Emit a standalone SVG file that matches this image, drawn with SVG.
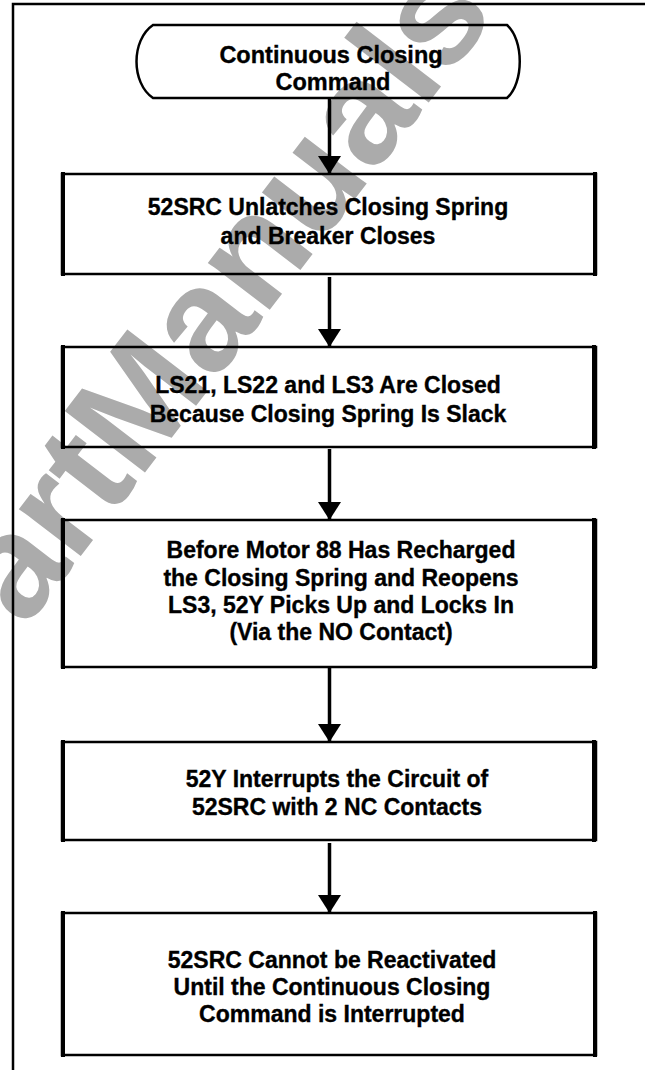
<svg xmlns="http://www.w3.org/2000/svg" width="645" height="1070" viewBox="0 0 645 1070">
<style>
.frame{fill:none;stroke:#000;stroke-width:2.5}
.box{fill:none;stroke:#000;stroke-width:2.5}
.side{stroke:#000;stroke-width:4}
.lbl{font-family:"Liberation Sans",Arial,Helvetica,sans-serif;font-weight:bold;font-size:23px;fill:#000;stroke:#000;stroke-width:0.35;text-anchor:middle}
.big{font-size:23.5px}
.conn{stroke:#000;stroke-width:3.5;fill:none}
.wm{font-family:"Liberation Sans",Arial,sans-serif;font-weight:bold;font-size:147px;fill:#ababab}
</style>
<defs>
<marker id="ah" viewBox="0 0 18 23" refX="18" refY="11.5" markerWidth="18" markerHeight="23" markerUnits="userSpaceOnUse" orient="auto">
<path d="M0,0 L18,11.5 L0,23 Z" fill="#000"/>
</marker>
</defs>
<rect width="645" height="1070" fill="#fff"/>
<g id="watermark">
<text class="wm" transform="translate(-35,707) rotate(-52.5)">PartManuals</text>
</g>
<path class="frame" d="M13,1070 V4 H645"/>
<g id="start">
<path class="box" d="M153,25 H507 C524,40 524,83 507,98 H153 C131,83 131,40 153,25 Z"/>
<text class="lbl big" x="331" y="63">Continuous Closing</text>
<text class="lbl big" x="333" y="90">Command</text>
</g>
<g id="step1">
<rect class="box" x="62" y="174" width="534" height="100"/>
<line class="side" x1="63" y1="172" x2="63" y2="276"/>
<line class="side" x1="595" y1="172" x2="595" y2="276"/>
<text class="lbl" x="328" y="215">52SRC Unlatches Closing Spring</text>
<text class="lbl" x="328" y="244">and Breaker Closes</text>
</g>
<g id="step2">
<rect class="box" x="62" y="347" width="534" height="100"/>
<line class="side" x1="63" y1="345" x2="63" y2="449"/>
<line class="side" x1="594" y1="345" x2="594" y2="449"/>
<text class="lbl" x="328" y="393">LS21, LS22 and LS3 Are Closed</text>
<text class="lbl" x="328" y="422">Because Closing Spring Is Slack</text>
</g>
<g id="step3">
<rect class="box" x="62" y="520" width="534" height="147"/>
<line class="side" x1="63" y1="518" x2="63" y2="669"/>
<line class="side" x1="594" y1="518" x2="594" y2="669"/>
<text class="lbl" x="341" y="558">Before Motor 88 Has Recharged</text>
<text class="lbl" x="341" y="585.5">the Closing Spring and Reopens</text>
<text class="lbl" x="341" y="613">LS3, 52Y Picks Up and Locks In</text>
<text class="lbl" x="341" y="640">(Via the NO Contact)</text>
</g>
<g id="step4">
<rect class="box" x="62" y="742" width="534" height="98"/>
<line class="side" x1="63" y1="740" x2="63" y2="842"/>
<line class="side" x1="594" y1="740" x2="594" y2="842"/>
<text class="lbl" x="337" y="787">52Y Interrupts the Circuit of</text>
<text class="lbl" x="337" y="815">52SRC with 2 NC Contacts</text>
</g>
<g id="step5">
<rect class="box" x="62" y="913" width="534" height="142"/>
<line class="side" x1="63" y1="911" x2="63" y2="1057"/>
<line class="side" x1="595" y1="911" x2="595" y2="1057"/>
<text class="lbl" x="332" y="968">52SRC Cannot be Reactivated</text>
<text class="lbl" x="332" y="995">Until the Continuous Closing</text>
<text class="lbl" x="332" y="1022">Command is Interrupted</text>
</g>
<g id="connectors">
<line class="conn" x1="329.5" y1="98" x2="329.5" y2="174" marker-end="url(#ah)"/>
<line class="conn" x1="329.5" y1="277" x2="329.5" y2="347" marker-end="url(#ah)"/>
<line class="conn" x1="329.5" y1="449" x2="329.5" y2="520" marker-end="url(#ah)"/>
<line class="conn" x1="329.5" y1="668" x2="329.5" y2="742" marker-end="url(#ah)"/>
<line class="conn" x1="329.5" y1="843" x2="329.5" y2="913" marker-end="url(#ah)"/>
</g>
</svg>
